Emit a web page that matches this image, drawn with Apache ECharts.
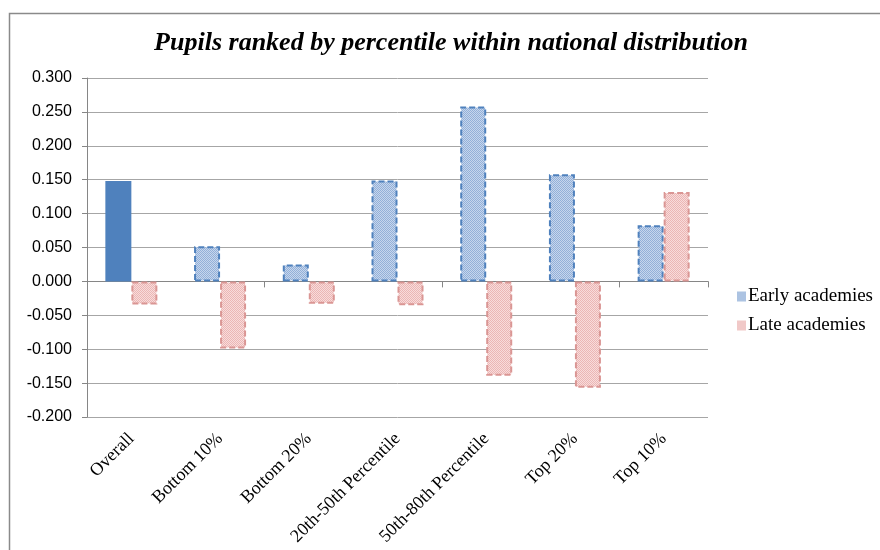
<!DOCTYPE html>
<html>
<head>
<meta charset="utf-8">
<script src="https://cdn.jsdelivr.net/npm/echarts@6/dist/echarts.min.js"></script>
<style>
  html, body { margin: 0; padding: 0; background: #ffffff; }
  #chart { width: 880px; height: 550px; }
</style>
</head>
<body>
<div id="chart"></div>
<script>
// Categories and values (difference in ranking, by group)
const categories = ['Overall', 'Bottom 10%', 'Bottom 20%', '20th-50th Percentile', '50th-80th Percentile', 'Top 20%', 'Top 10%'];
const earlyAcademies = [0.148, 0.052, 0.025, 0.149, 0.258, 0.158, 0.083];
const lateAcademies = [-0.034, -0.099, -0.033, -0.035, -0.139, -0.157, 0.132];
const seriesNames = ['Early academies', 'Late academies'];
const titleText = 'Pupils ranked by percentile within national distribution';

// Small dithered tile used as a fill pattern
function makePattern(c1, c2) {
  const cv = document.createElement('canvas');
  cv.width = 4; cv.height = 4;
  const ctx = cv.getContext('2d');
  for (let y = 0; y < 4; y++) {
    for (let x = 0; x < 4; x++) {
      ctx.fillStyle = ((x + y) % 2 === 0) ? c1 : c2;
      ctx.fillRect(x, y, 1, 1);
    }
  }
  return { image: cv, repeat: 'repeat' };
}

const bluePattern = makePattern('#93B0D8', '#C6D6ED');
const redPattern = makePattern('#EBB6B5', '#F8DCDB');

const blueBorder = { borderColor: '#4F81BD', borderWidth: 2, borderType: [6, 3] };
const redBorder = { borderColor: '#DA9694', borderWidth: 2, borderType: [6, 3] };

const earlyData = earlyAcademies.map((v, i) => i === 0
  ? { value: v, itemStyle: { color: '#4F81BD', borderWidth: 0 } }
  : v);

const chart = echarts.init(document.getElementById('chart'), null, { renderer: 'canvas' });

chart.setOption({
  animation: false,
  backgroundColor: '#ffffff',
  graphic: [
    {
      type: 'polyline',
      shape: { points: [[9.5, 550], [9.5, 13.5], [880, 13.5]] },
      style: { stroke: '#8a8a8a', lineWidth: 1.5, fill: null },
      silent: true
    },
    {
      type: 'text',
      x: 451,
      y: 43,
      style: {
        text: titleText,
        align: 'center',
        verticalAlign: 'middle',
        font: 'italic bold 26px "Liberation Serif", "Times New Roman", serif',
        fill: '#000000'
      },
      silent: true
    }
  ],
  grid: { left: 87, right: 172, top: 78, bottom: 133, containLabel: false },
  legend: {
    orient: 'vertical',
    left: 732,
    top: 282,
    itemWidth: 9,
    itemHeight: 10,
    itemGap: 10,
    icon: 'rect',
    itemStyle: { borderWidth: 0 },
    textStyle: { fontFamily: '"Liberation Serif", serif', fontSize: 19, color: '#000', padding: [0, 0, 0, -3] },
    data: seriesNames
  },
  xAxis: [
    {
      type: 'category',
      data: categories,
      axisLine: { onZero: true, lineStyle: { color: '#868686', width: 1 } },
      axisTick: { show: true, length: 6, lineStyle: { color: '#868686' } },
      axisLabel: { show: false },
      splitLine: { show: false }
    },
    {
      type: 'category',
      data: categories,
      position: 'bottom',
      axisLine: { show: false, onZero: false },
      axisTick: { show: false },
      axisLabel: {
        rotate: 45,
        margin: 19,
        interval: 0,
        fontFamily: '"Liberation Serif", serif',
        fontSize: 18,
        color: '#000'
      },
      splitLine: { show: false }
    }
  ],
  yAxis: {
    type: 'value',
    min: -0.2,
    max: 0.3,
    interval: 0.05,
    axisLine: { show: true, lineStyle: { color: '#868686', width: 1 } },
    axisTick: { show: true, length: 5, inside: false, lineStyle: { color: '#868686' } },
    axisLabel: {
      margin: 15,
      fontFamily: '"Liberation Sans", Arial, sans-serif',
      fontSize: 16,
      color: '#000',
      formatter: v => v.toFixed(3)
    },
    splitLine: { show: true, lineStyle: { color: '#a6a6a6', width: 1 } }
  },
  series: [
    {
      name: seriesNames[0],
      type: 'bar',
      xAxisIndex: 0,
      data: earlyData,
      barWidth: 26,
      barGap: '0%',
      itemStyle: Object.assign({ color: bluePattern }, blueBorder)
    },
    {
      name: seriesNames[1],
      type: 'bar',
      xAxisIndex: 0,
      data: lateAcademies,
      barWidth: 26,
      barGap: '0%',
      itemStyle: Object.assign({ color: redPattern }, redBorder)
    }
  ]
});
</script>
</body>
</html>
